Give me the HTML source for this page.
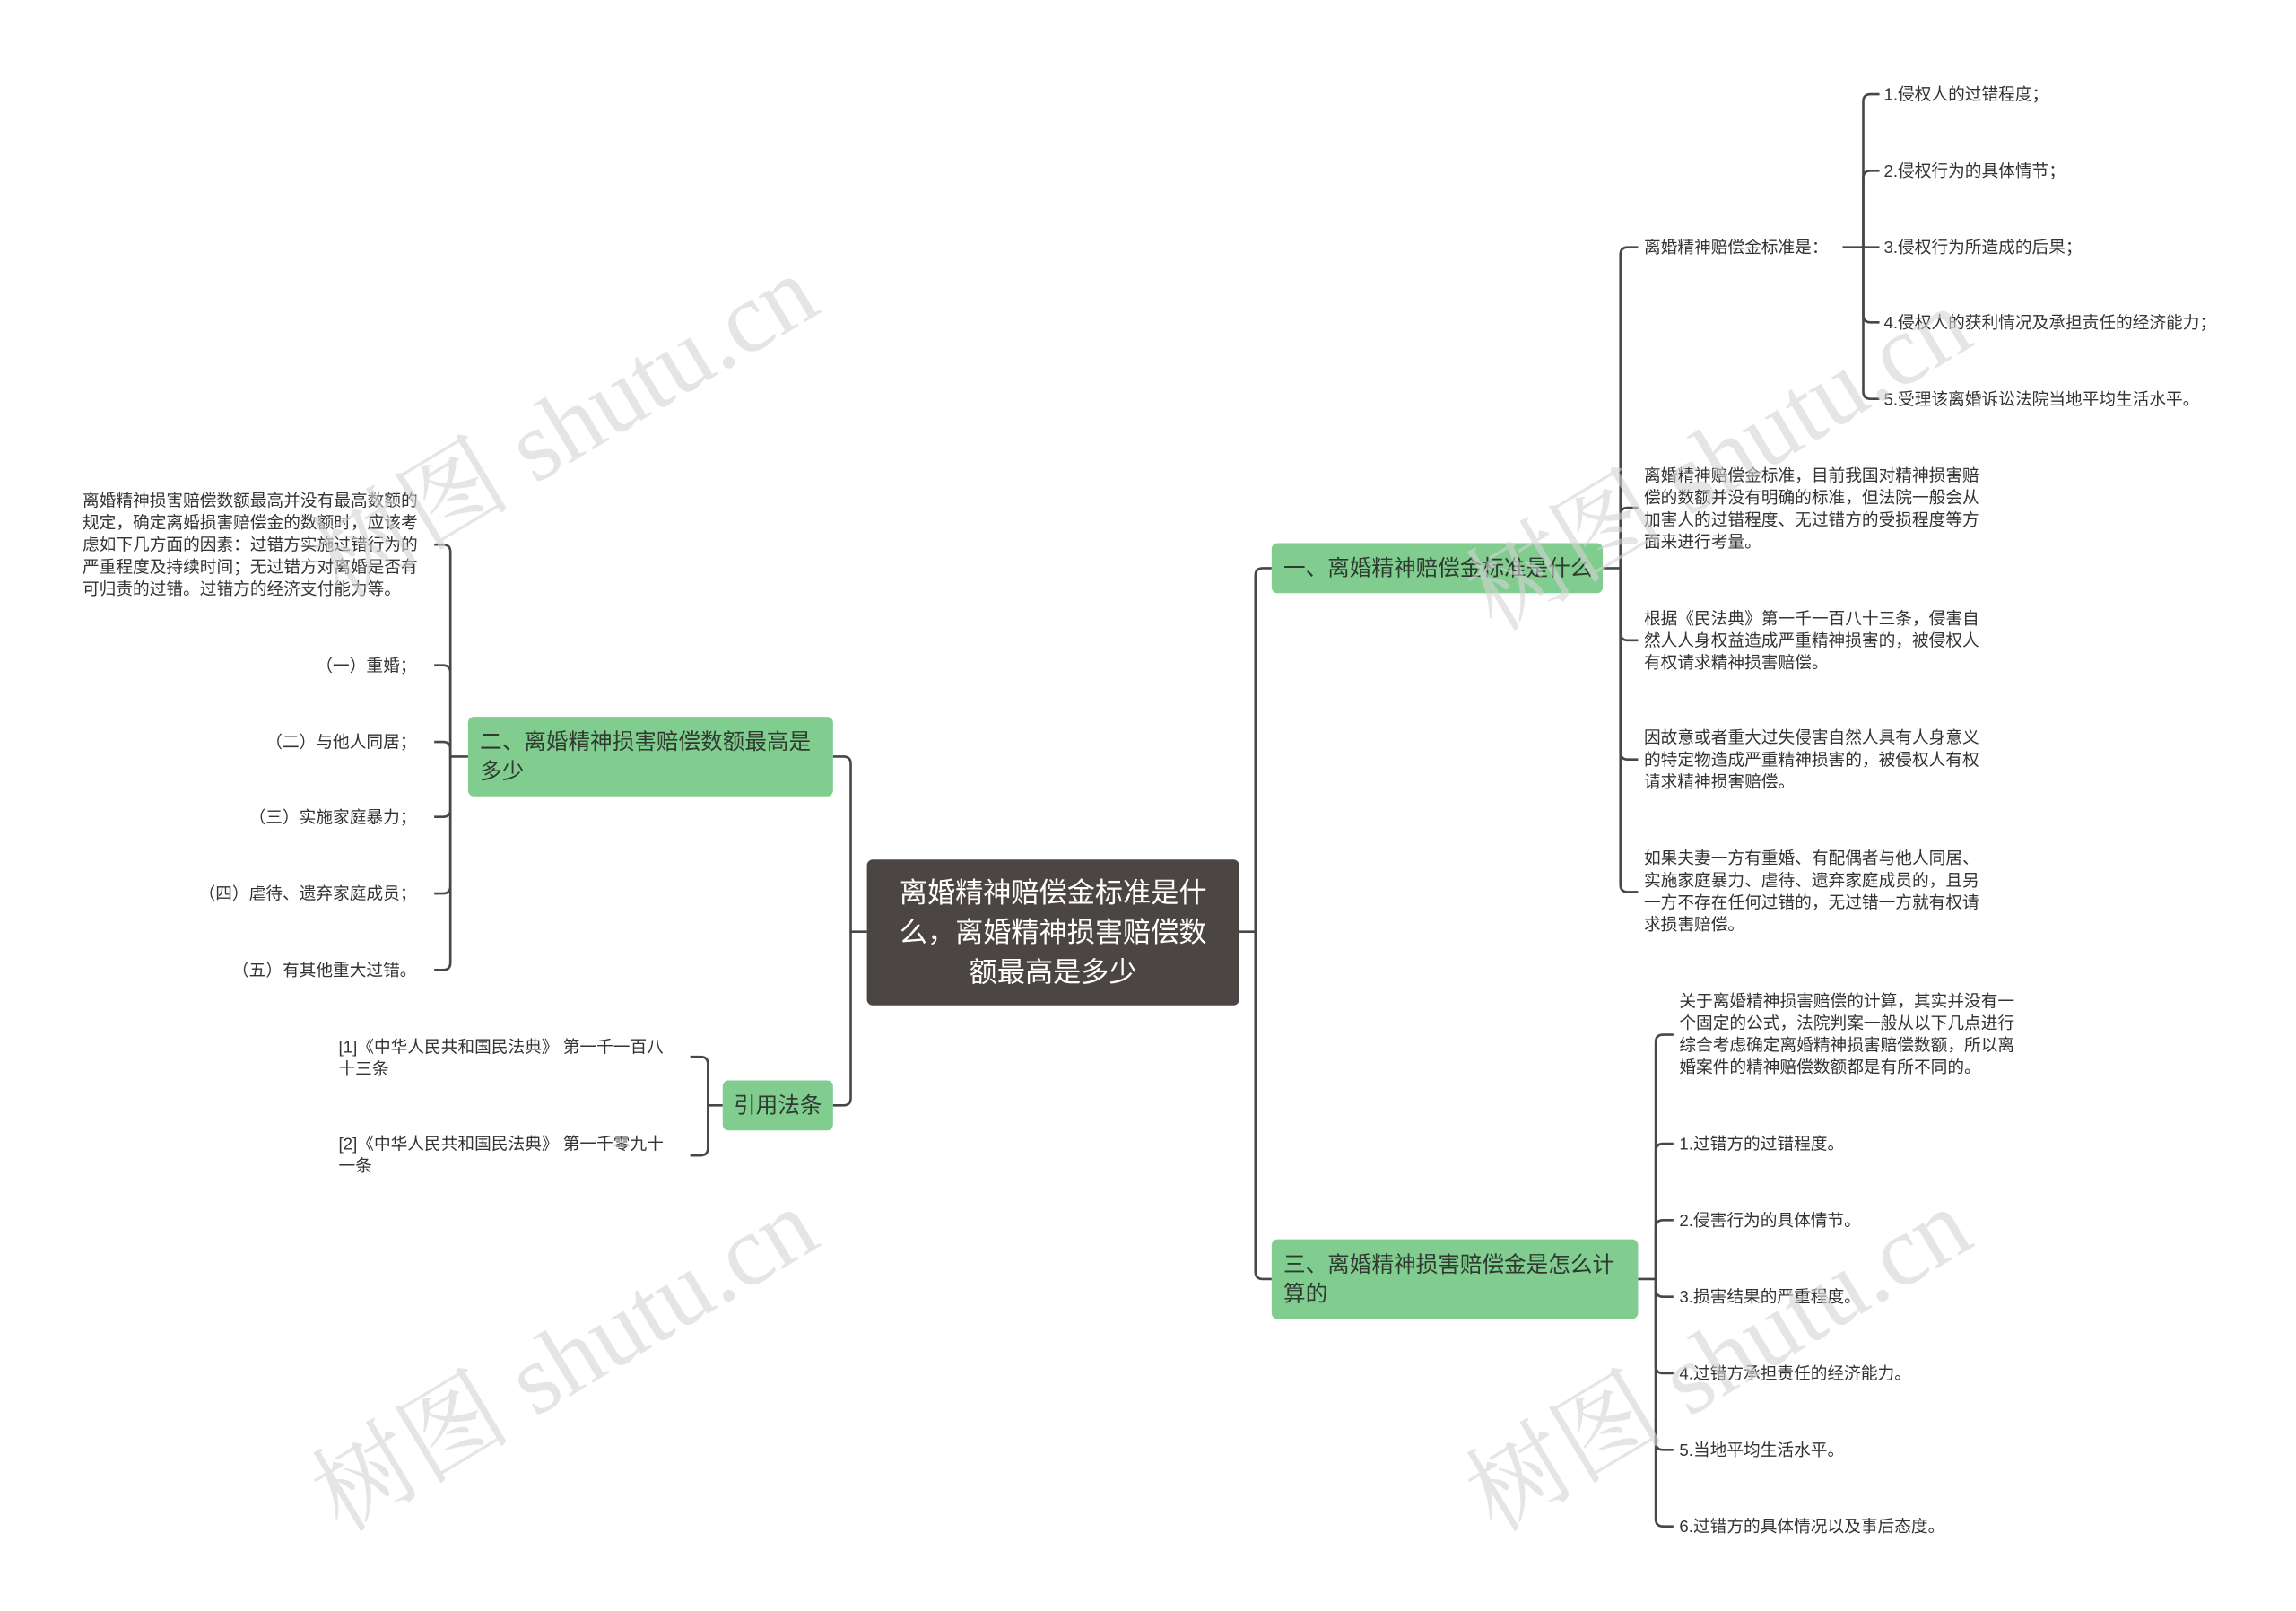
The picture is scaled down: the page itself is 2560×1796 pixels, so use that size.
<!DOCTYPE html>
<html><head><meta charset="utf-8"><style>
html,body{margin:0;padding:0;background:#fff;}
svg{display:block;}
text{font-family:"Liberation Sans","Noto Sans CJK SC",sans-serif;fill:#333;}
.s{font-size:11.4px;}
.n{font-size:15px;fill:#2f3a30;}
.r{font-size:19px;fill:#fff;}
.w{font-family:"Liberation Serif","Noto Serif CJK SC",serif;font-size:68px;fill:#d4d4d4;fill-opacity:0.6;}
path{fill:none;stroke:#474747;stroke-width:1.6;}
</style></head><body>
<svg width="2560" height="1796" viewBox="0 0 1560 1094.5" xmlns="http://www.w3.org/2000/svg">
<path d="M842,633 H853 V391 Q853,386 858,386 H864"/>
<path d="M853,633 V864 Q853,869 858,869 H864"/>
<path d="M589,633 H578 V519 Q578,514 573,514 H566"/>
<path d="M578,633 V746 Q578,751 573,751 H566"/>
<path d="M1089,386 H1101 V173 Q1101,168 1106,168 H1113"/>
<path d="M1101,386 V350 Q1101,345 1106,345 H1113"/>
<path d="M1101,386 V430 Q1101,435 1106,435 H1113"/>
<path d="M1101,386 V511 Q1101,516 1106,516 H1113"/>
<path d="M1101,386 V601 Q1101,606 1106,606 H1113"/>
<path d="M1252,168 H1266 V69 Q1266,64 1271,64 H1277"/>
<path d="M1266,168 V121 Q1266,116 1271,116 H1277"/>
<path d="M1266,168 H1277"/>
<path d="M1266,168 V214 Q1266,219 1271,219 H1277"/>
<path d="M1266,168 V266 Q1266,271 1271,271 H1277"/>
<path d="M1113,869 H1125 V708 Q1125,703 1130,703 H1137"/>
<path d="M1125,869 V782 Q1125,777 1130,777 H1137"/>
<path d="M1125,869 V834 Q1125,829 1130,829 H1137"/>
<path d="M1125,869 V876 Q1125,881 1130,881 H1137"/>
<path d="M1125,869 V928 Q1125,933 1130,933 H1137"/>
<path d="M1125,869 V980 Q1125,985 1130,985 H1137"/>
<path d="M1125,869 V1032 Q1125,1037 1130,1037 H1137"/>
<path d="M318,514 H306 V375 Q306,370 301,370 H295"/>
<path d="M306,514 V457 Q306,452 301,452 H295"/>
<path d="M306,514 V509 Q306,504 301,504 H295"/>
<path d="M306,514 V550 Q306,555 301,555 H295"/>
<path d="M306,514 V602 Q306,607 301,607 H295"/>
<path d="M306,514 V654 Q306,659 301,659 H295"/>
<path d="M491,751 H481 V723 Q481,718 476,718 H469"/>
<path d="M481,751 V780 Q481,785 476,785 H469"/>

<rect x="589" y="584" width="253" height="99" rx="4" fill="#4b4644"/>
<text class="r" x="715.5" y="613" text-anchor="middle">离婚精神赔偿金标准是什</text>
<text class="r" x="715.5" y="640" text-anchor="middle">么，离婚精神损害赔偿数</text>
<text class="r" x="715.5" y="667" text-anchor="middle">额最高是多少</text>

<rect x="864" y="369" width="225" height="34" rx="4" fill="#80cd8f"/>
<text class="n" x="872" y="391">一、离婚精神赔偿金标准是什么</text>
<rect x="864" y="842" width="249" height="54" rx="4" fill="#80cd8f"/>
<text class="n" x="872" y="864">三、离婚精神损害赔偿金是怎么计</text>
<text class="n" x="872" y="884">算的</text>
<rect x="318" y="487" width="248" height="54" rx="4" fill="#80cd8f"/>
<text class="n" x="326" y="509">二、离婚精神损害赔偿数额最高是</text>
<text class="n" x="326" y="529">多少</text>
<rect x="491" y="734" width="75" height="34" rx="4" fill="#80cd8f"/>
<text class="n" x="528.5" y="756" text-anchor="middle">引用法条</text>

<text class="s" x="1117" y="172">离婚精神赔偿金标准是：</text>
<text class="s" x="1280" y="68">1.侵权人的过错程度；</text>
<text class="s" x="1280" y="120">2.侵权行为的具体情节；</text>
<text class="s" x="1280" y="172">3.侵权行为所造成的后果；</text>
<text class="s" x="1280" y="223">4.侵权人的获利情况及承担责任的经济能力；</text>
<text class="s" x="1280" y="275">5.受理该离婚诉讼法院当地平均生活水平。</text>
<text class="s" x="1117" y="327">离婚精神赔偿金标准，目前我国对精神损害赔</text>
<text class="s" x="1117" y="342">偿的数额并没有明确的标准，但法院一般会从</text>
<text class="s" x="1117" y="357">加害人的过错程度、无过错方的受损程度等方</text>
<text class="s" x="1117" y="372">面来进行考量。</text>
<text class="s" x="1117" y="424">根据《民法典》第一千一百八十三条，侵害自</text>
<text class="s" x="1117" y="439">然人人身权益造成严重精神损害的，被侵权人</text>
<text class="s" x="1117" y="454">有权请求精神损害赔偿。</text>
<text class="s" x="1117" y="505">因故意或者重大过失侵害自然人具有人身意义</text>
<text class="s" x="1117" y="520">的特定物造成严重精神损害的，被侵权人有权</text>
<text class="s" x="1117" y="535">请求精神损害赔偿。</text>
<text class="s" x="1117" y="587">如果夫妻一方有重婚、有配偶者与他人同居、</text>
<text class="s" x="1117" y="602">实施家庭暴力、虐待、遗弃家庭成员的，且另</text>
<text class="s" x="1117" y="617">一方不存在任何过错的，无过错一方就有权请</text>
<text class="s" x="1117" y="632">求损害赔偿。</text>

<text class="s" x="1141" y="684">关于离婚精神损害赔偿的计算，其实并没有一</text>
<text class="s" x="1141" y="699">个固定的公式，法院判案一般从以下几点进行</text>
<text class="s" x="1141" y="714">综合考虑确定离婚精神损害赔偿数额，所以离</text>
<text class="s" x="1141" y="729">婚案件的精神赔偿数额都是有所不同的。</text>
<text class="s" x="1141" y="781">1.过错方的过错程度。</text>
<text class="s" x="1141" y="833">2.侵害行为的具体情节。</text>
<text class="s" x="1141" y="885">3.损害结果的严重程度。</text>
<text class="s" x="1141" y="937">4.过错方承担责任的经济能力。</text>
<text class="s" x="1141" y="989">5.当地平均生活水平。</text>
<text class="s" x="1141" y="1041">6.过错方的具体情况以及事后态度。</text>

<text class="s" x="56" y="344">离婚精神损害赔偿数额最高并没有最高数额的</text>
<text class="s" x="56" y="359">规定，确定离婚损害赔偿金的数额时，应该考</text>
<text class="s" x="56" y="374">虑如下几方面的因素：过错方实施过错行为的</text>
<text class="s" x="56" y="389">严重程度及持续时间；无过错方对离婚是否有</text>
<text class="s" x="56" y="404">可归责的过错。过错方的经济支付能力等。</text>
<text class="s" x="283" y="456" text-anchor="end">（一）重婚；</text>
<text class="s" x="283" y="508" text-anchor="end">（二）与他人同居；</text>
<text class="s" x="283" y="559" text-anchor="end">（三）实施家庭暴力；</text>
<text class="s" x="283" y="611" text-anchor="end">（四）虐待、遗弃家庭成员；</text>
<text class="s" x="283" y="663" text-anchor="end">（五）有其他重大过错。</text>

<text class="s" x="230" y="715">[1]《中华人民共和国民法典》 第一千一百八</text>
<text class="s" x="230" y="730">十三条</text>
<text class="s" x="230" y="781">[2]《中华人民共和国民法典》 第一千零九十</text>
<text class="s" x="230" y="796">一条</text>

<text class="w" transform="translate(232,408) rotate(-31)">树图 shutu.cn</text>
<text class="w" transform="translate(232,1042) rotate(-31)">树图 shutu.cn</text>
<text class="w" transform="translate(1016,430) rotate(-31)">树图 shutu.cn</text>
<text class="w" transform="translate(1016,1042) rotate(-31)">树图 shutu.cn</text>
</svg>
</body></html>
